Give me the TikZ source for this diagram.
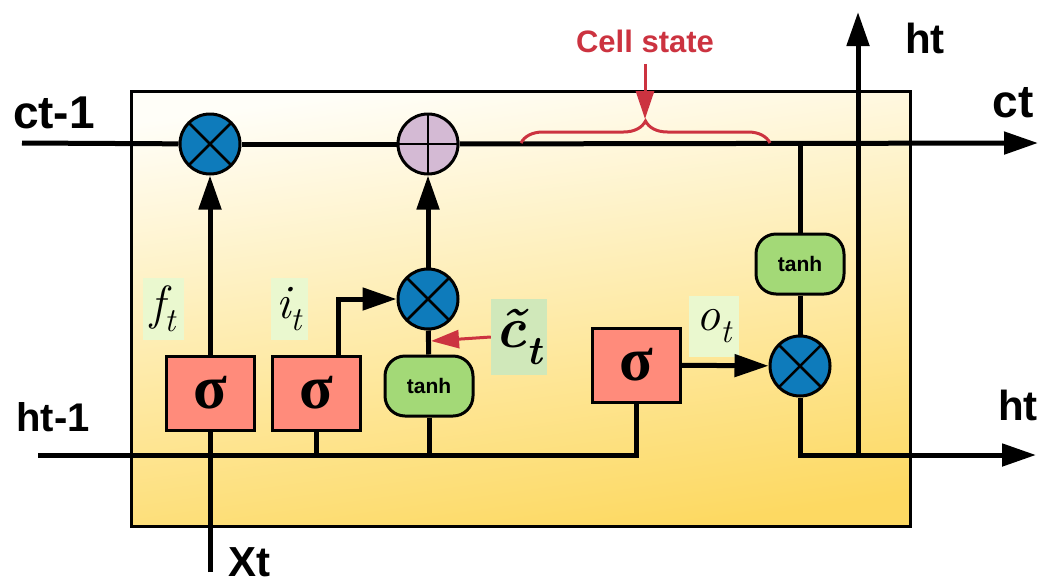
\documentclass[tikz,border=0pt]{standalone}
\usepackage{fontspec}
\setmainfont{Liberation Sans}
\newfontfamily\timesfont{Liberation Serif}
\newfontfamily\lmfont{Latin Modern Roman}
\usetikzlibrary{arrows.meta,decorations.pathreplacing}

\definecolor{gateblue}{HTML}{0E7BBB}
\definecolor{addpink}{HTML}{D4BAD4}
\definecolor{sigred}{HTML}{FF8B7B}
\definecolor{tanhgreen}{HTML}{A3D977}
\definecolor{statered}{HTML}{CC3340}
\definecolor{labelgreen}{HTML}{EAF8CF}
\definecolor{ctgreen}{HTML}{D0E8BA}
\definecolor{celltop}{HTML}{FFFEF8}
\definecolor{cellmid}{HTML}{FEEBA6}
\definecolor{cellbot}{HTML}{FDD962}

\tikzset{
  wire/.style={line width=5pt},
  flow/.style={line width=5pt,-{Triangle[length=34pt,width=22pt]}},
  redflow/.style={line width=3pt,draw=statered,-{Triangle[length=28pt,width=18pt]}},
  prodnode/.style={circle,draw,line width=3pt,fill=gateblue,minimum size=60pt,inner sep=0pt,
    path picture={\draw[line width=2.5pt] (path picture bounding box.north west) -- (path picture bounding box.south east)
      (path picture bounding box.north east) -- (path picture bounding box.south west);}},
  sumnode/.style={circle,draw,line width=3pt,fill=addpink,minimum size=60pt,inner sep=0pt,
    path picture={\draw[line width=2.5pt] (path picture bounding box.north) -- (path picture bounding box.south)
      (path picture bounding box.west) -- (path picture bounding box.east);}},
  sigbox/.style={draw,line width=3pt,fill=sigred,minimum width=88pt,minimum height=74pt,inner sep=0pt,
    font=\timesfont\bfseries\fontsize{62}{62}\selectfont},
  tanhbox/.style={draw,line width=3pt,fill=tanhgreen,rounded corners=20pt,minimum width=88pt,minimum height=60pt,
    font=\bfseries\fontsize{21}{21}\selectfont},
  gatelbl/.style={fill=labelgreen,inner sep=0pt,minimum height=62pt,font=\lmfont\itshape\fontsize{48}{48}\selectfont},
  biglbl/.style={font=\bfseries\fontsize{42}{42}\selectfont}
}

\begin{document}
\begin{tikzpicture}[x=1pt,y=-1pt]
  \useasboundingbox (0,0) rectangle (1040,576);
  % cell body
  \shadedraw[line width=3pt,top color=celltop,middle color=cellmid,bottom color=cellbot,shading angle=8] (131,91) rectangle (910,526);

  % end points
  \coordinate (cin) at (22,143);
  \coordinate (cout) at (1038,143);
  \coordinate (tap) at (800,143);
  \coordinate (hin) at (38,455);
  \coordinate (hout) at (1036,455);
  \coordinate (hsplit) at (858,455);
  \coordinate (htop) at (858,12);
  \coordinate (xin) at (210,572);
  \coordinate (cmid) at (431,341);
  \coordinate (bracetip) at (645,119);

  % gates
  \node[prodnode] (fx) at (210,144) {};
  \node[sumnode] (add) at (428,144) {};
  \node[prodnode] (ix) at (428,299) {};
  \node[prodnode] (ox) at (800,366) {};
  \node[sigbox] (fsig) at (210,393) {σ};
  \node[sigbox] (isig) at (316,393) {σ};
  \node[sigbox] (osig) at (636,365) {σ};
  \node[tanhbox] (tanhi) at (429,386) {tanh};
  \node[tanhbox] (tanho) at (800,264) {tanh};

  % gate labels
  \node[gatelbl,minimum width=41pt] (ftl) at (163,309) {f\textsubscript{t}};
  \node[gatelbl,minimum width=37pt] (itl) at (289,309) {i\textsubscript{t}};
  \node[gatelbl,minimum width=50pt,minimum height=61pt] (otl) at (714,326) {o\textsubscript{t}};
  \node[gatelbl,fill=ctgreen,minimum width=56pt,minimum height=76pt,font=\lmfont\bfseries\itshape\fontsize{58}{58}\selectfont] (ctl) at (519,337) {\~{c}\textsubscript{t}};

  % cell state
  \draw[wire] (cin) -- (fx);
  \draw[wire] (fx) -- (add);
  \draw[flow] (add) -- (cout);
  \draw[flow] (fsig) -- (fx);
  \draw[flow] ([xshift=22pt]isig.north) |- (ix);
  \draw[flow] (ix) -- (add);
  \draw[wire] (tanhi) -- (ix);
  \draw[redflow] (ctl.west) -- (cmid);

  % hidden state
  \draw[wire] (hin) -| (osig);
  \draw[wire] (xin) -- (fsig);
  \draw[wire] (isig) -- (isig |- hin);
  \draw[wire] (tanhi) -- (tanhi |- hin);
  \draw[flow] (osig) -- (ox);
  \draw[wire] (tap) -- (tanho);
  \draw[wire] (tanho) -- (ox);
  \draw[flow] (ox) |- (hout);
  \draw[flow] (hsplit) -- (htop);

  % cell state marker
  \node[font=\bfseries\fontsize{31}{31}\selectfont,text=statered] (cs) at (645,41) {Cell state};
  \draw[statered,line width=3pt,decorate,decoration={brace,amplitude=22pt}] (521,143) -- (770,143);
  \draw[redflow] ([yshift=-8pt]cs.south) -- (bracetip);

  % outer labels
  \node[biglbl,font=\bfseries\fontsize{46}{46}\selectfont] (ctin) at (54,113) {ct-1};
  \node[biglbl,font=\bfseries\fontsize{46}{46}\selectfont] (ctout) at (1013,103) {ct};
  \node[biglbl,font=\bfseries\fontsize{40}{40}\selectfont] (htin) at (53,417) {ht-1};
  \node[biglbl] (htup) at (925,38) {ht};
  \node[biglbl] (htout) at (1018,405) {ht};
  \node[biglbl] (xtl) at (249,562) {Xt};
\end{tikzpicture}
\end{document}
